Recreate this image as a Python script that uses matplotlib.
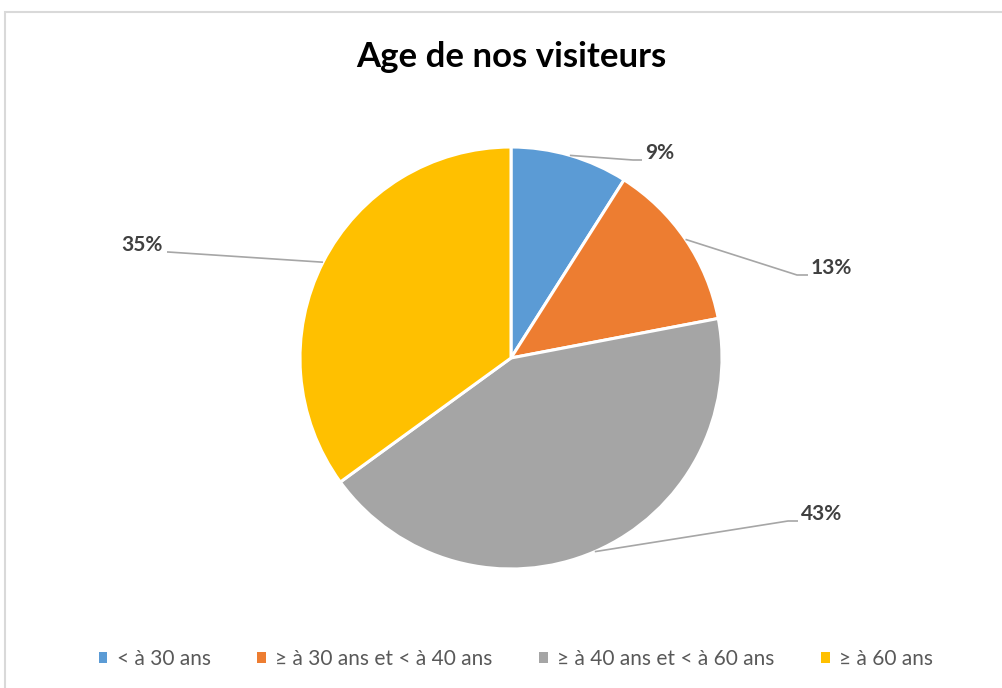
import numpy as np
import matplotlib
matplotlib.use("Agg")
import matplotlib.pyplot as plt
from matplotlib.patches import Rectangle

plt.rcParams['font.family'] = ['Lato', 'DejaVu Sans']

title = "Age de nos visiteurs"
categories = ["< à 30 ans", "≥ à 30 ans et < à 40 ans", "≥ à 40 ans et < à 60 ans", "≥ à 60 ans"]
values = [9, 13, 43, 35]
colors = ["#5B9BD5", "#ED7D31", "#A5A5A5", "#FFC000"]

# label text anchor positions (pixel layout, y from top) and elbow offset
label_pos = [(645, 153), (811, 268), (801, 514), (163, 245)]
label_ha = ['left', 'left', 'left', 'right']
elbow_dx = [-12, -14, -13, 5]

W, H = 1002, 688
fig = plt.figure(figsize=(W / 100, H / 100), dpi=100)
ax = fig.add_axes([0, 0, 1, 1])

cx, cy, R = 511, H - 358, 211
wedges, _ = ax.pie(values, colors=colors, startangle=90, counterclock=False,
                   center=(cx, cy), radius=R,
                   wedgeprops=dict(edgecolor='white', linewidth=2.2))
ax.set_xlim(0, W)
ax.set_ylim(0, H)
ax.set_aspect('equal')
ax.axis('off')

# border
ax.add_patch(Rectangle((5.5, -10), W + 20, H - 11.5 + 10, fill=False,
                       edgecolor='#D9D9D9', linewidth=1.5, clip_on=False))

total = sum(values)
for w, v, (lx, ly), ha, dx in zip(wedges, values, label_pos, label_ha, elbow_dx):
    ang = np.deg2rad((w.theta1 + w.theta2) / 2)
    ex, ey = cx + R * np.cos(ang), cy + R * np.sin(ang)
    ty = H - ly
    line_y = ty - 7
    elbow_x = lx + dx
    end_x = lx - 3 if ha == 'left' else lx + 4
    ax.plot([ex, elbow_x, end_x], [ey, line_y, line_y], color='#A6A6A6', lw=1.2,
            solid_capstyle='butt')
    ax.text(lx, ty, f"{round(100 * v / total)}%", ha=ha, va='center',
            fontsize=15, fontweight='bold', color='#404040')

ax.text(cx, H - 57, title, ha='center', va='center', fontsize=25,
        fontweight='bold', color='#000000')

ax.legend(wedges, categories, loc='center', bbox_to_anchor=(516 / W, 1 - 659 / H),
          ncol=4, frameon=False, fontsize=15, labelcolor='#595959',
          handlelength=0.4, handleheight=0.4, handletextpad=0.45,
          columnspacing=2.25, borderaxespad=0)
for h in ax.get_legend().legend_handles:
    h.set_edgecolor('none')

fig.savefig("out.png", dpi=100, facecolor='white')
